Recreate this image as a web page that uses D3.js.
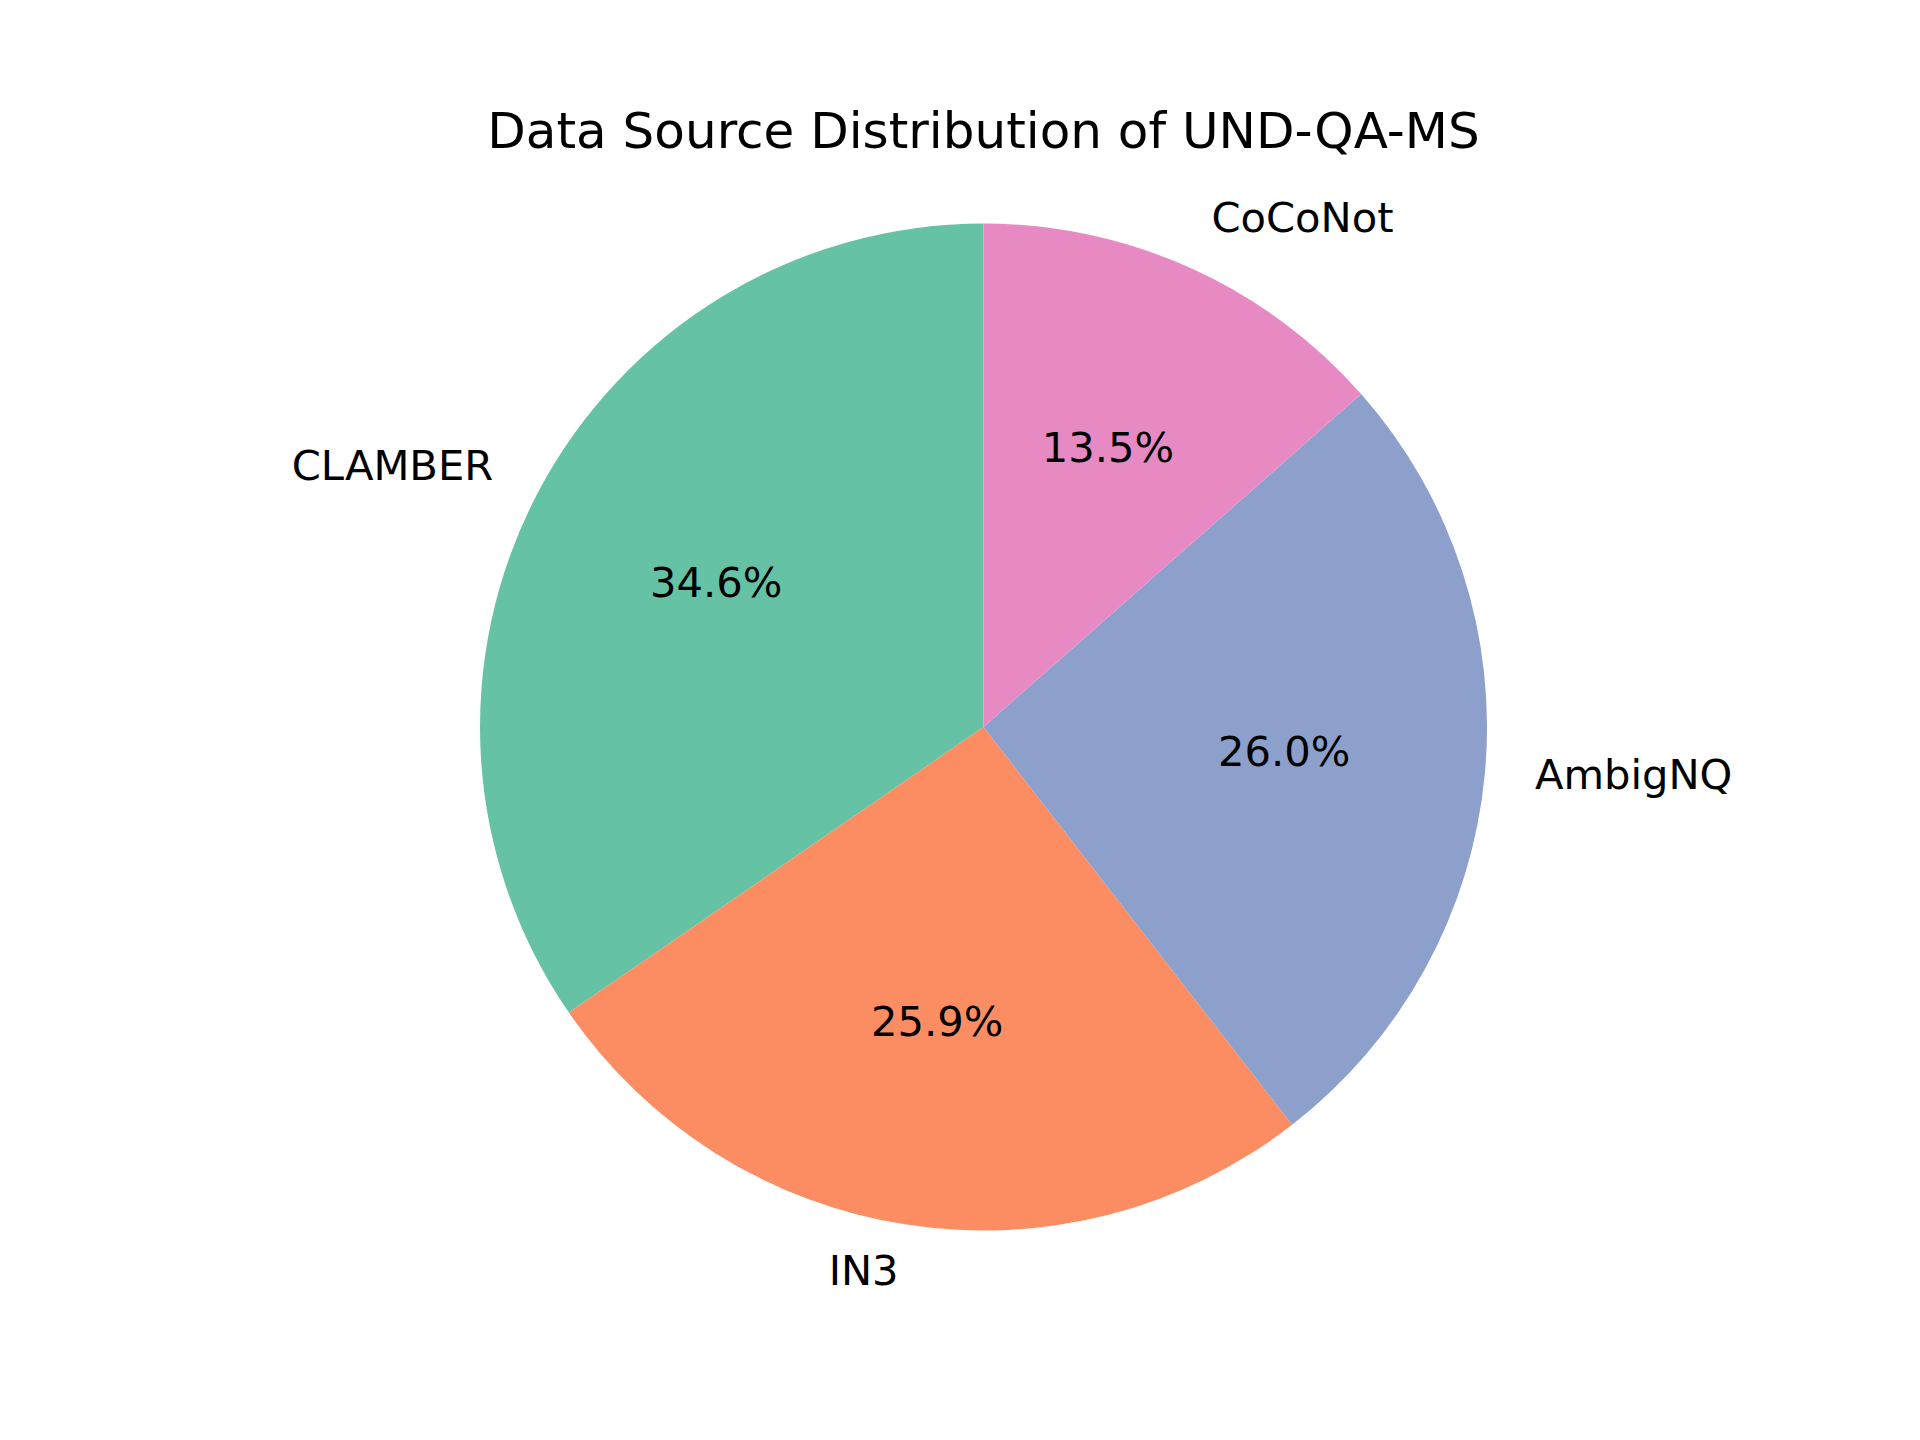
<!DOCTYPE html>
<html lang="en">
  <head>
    <meta charset="UTF-8" />
    <script src="https://cdn.jsdelivr.net/npm/d3@7/dist/d3.min.js"></script>
    <style>
      body {
        margin: 0;
        background: #fff;
      }
      text {
        font-family: "DejaVu Sans", sans-serif;
        fill: #000;
      }
    </style>
    <title>Data Source Distribution of UND-QA-MS</title>
  </head>
  <body>
    <div class="canvas"></div>
    <script>
      // data (percent of samples)
      const sources = ["CLAMBER", "IN3", "AmbigNQ", "CoCoNot"];
      const shares = [34.6, 25.9, 26.0, 13.5];
      const colors = ["#66c2a5", "#fc8d62", "#8da0cb", "#e78ac3"];
      const title = "Data Source Distribution of UND-QA-MS";

      const width = 1920;
      const height = 1440;
      const cx = 983.5;
      const cy = 727;
      const radius = 503.5;

      const svg = d3
        .select(".canvas")
        .append("svg")
        .attr("width", width)
        .attr("height", height);

      svg
        .append("rect")
        .attr("width", width)
        .attr("height", height)
        .attr("fill", "#fff");

      svg
        .append("text")
        .attr("x", cx)
        .attr("y", 148)
        .attr("text-anchor", "middle")
        .style("font-size", "50px")
        .text(title);

      const rows = sources.map((s, i) => ({ name: s, value: shares[i] }));

      // matplotlib style: start at 12 o'clock and go counter clockwise
      const pie = d3
        .pie()
        .sort(null)
        .value((d) => d.value)
        .startAngle(0)
        .endAngle(-2 * Math.PI);

      const arcs = pie(rows);
      const total = d3.sum(shares);

      const arc = d3.arc().innerRadius(0).outerRadius(radius);

      const g = svg
        .append("g")
        .attr("transform", `translate(${cx}, ${cy})`);

      g.selectAll("path")
        .data(arcs)
        .join("path")
        .attr("d", arc)
        .attr("fill", (d, i) => colors[i]);

      const at = (d, k) => {
        const mid = (d.startAngle + d.endAngle) / 2;
        return [Math.sin(mid) * radius * k, -Math.cos(mid) * radius * k];
      };

      // outer labels at 1.1 r
      g.selectAll(".label")
        .data(arcs)
        .join("text")
        .attr("class", "label")
        .attr("x", (d) => at(d, 1.1)[0])
        .attr("y", (d) => at(d, 1.1)[1])
        .attr("dy", "0.245em")
        .attr("text-anchor", (d) => (at(d, 1.1)[0] > 0 ? "start" : "end"))
        .style("font-size", "41.67px")
        .text((d) => d.data.name);

      // percentages at 0.6 r
      g.selectAll(".pct")
        .data(arcs)
        .join("text")
        .attr("class", "pct")
        .attr("x", (d) => at(d, 0.6)[0])
        .attr("y", (d) => at(d, 0.6)[1])
        .attr("dy", "0.245em")
        .attr("text-anchor", "middle")
        .style("font-size", "41.67px")
        .text((d) => ((d.data.value / total) * 100).toFixed(1) + "%");
    </script>
  </body>
</html>
